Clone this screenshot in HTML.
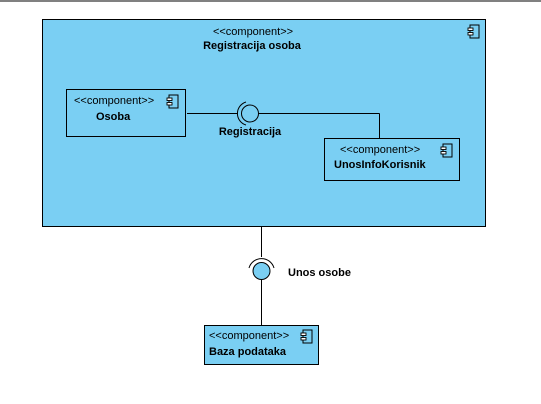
<!DOCTYPE html>
<html><head><style>body{margin:0;background:#fff}svg{display:block}</style></head><body>
<svg width="541" height="404" xmlns="http://www.w3.org/2000/svg" font-family="Liberation Sans, sans-serif">
<rect x="0" y="0" width="541" height="2" fill="#808080"/>
<defs>
<g id="ic"><rect x="2" y="0" width="9" height="13" fill="none" stroke="#000"/><rect x="0" y="3" width="5" height="2.5" fill="#fff" stroke="#000" stroke-width="0.9"/><rect x="0" y="7.5" width="5" height="2.5" fill="#fff" stroke="#000" stroke-width="0.9"/></g>
</defs>
<rect x="42.5" y="19.5" width="443" height="207" fill="#7acff3" stroke="#000"/>
<text x="253" y="35" font-size="11" text-anchor="middle">&lt;&lt;component&gt;&gt;</text>
<text x="252" y="49" font-size="11" font-weight="bold" text-anchor="middle">Registracija osoba</text>
<use href="#ic" x="468" y="25"/>
<rect x="66.5" y="89.5" width="119" height="47" fill="#7acff3" stroke="#000"/>
<text x="74" y="104" font-size="11">&lt;&lt;component&gt;&gt;</text>
<text x="96" y="120" font-size="11" font-weight="bold">Osoba</text>
<use href="#ic" x="167" y="95"/>
<line x1="187" y1="113.5" x2="238" y2="113.5" stroke="#000"/>
<path d="M246 102 A12 12 0 0 0 246 125" fill="none" stroke="#000"/>
<circle cx="250" cy="113.5" r="8.5" fill="#7acff3" stroke="#000"/>
<line x1="258.5" y1="113.5" x2="379.5" y2="113.5" stroke="#000"/>
<line x1="379.5" y1="113.5" x2="379.5" y2="138" stroke="#000"/>
<text x="250" y="135" font-size="11" font-weight="bold" text-anchor="middle">Registracija</text>
<rect x="324.5" y="138.5" width="135" height="42" fill="#7acff3" stroke="#000"/>
<text x="340" y="153" font-size="11">&lt;&lt;component&gt;&gt;</text>
<text x="334" y="168" font-size="11" font-weight="bold">UnosInfoKorisnik</text>
<use href="#ic" x="441" y="144"/>
<line x1="261.5" y1="227" x2="261.5" y2="257" stroke="#000"/>
<path d="M249 268 A13 13 0 0 1 274 268" fill="none" stroke="#000"/>
<circle cx="261.5" cy="271" r="8.5" fill="#7acff3" stroke="#000"/>
<line x1="261.5" y1="279.5" x2="261.5" y2="325" stroke="#000"/>
<text x="288" y="276" font-size="11" font-weight="bold">Unos osobe</text>
<rect x="204.5" y="325.5" width="114" height="39" fill="#7acff3" stroke="#000"/>
<text x="209" y="339" font-size="11">&lt;&lt;component&gt;&gt;</text>
<text x="209" y="355" font-size="11" font-weight="bold">Baza podataka</text>
<use href="#ic" x="301" y="330"/>
</svg>
</body></html>
